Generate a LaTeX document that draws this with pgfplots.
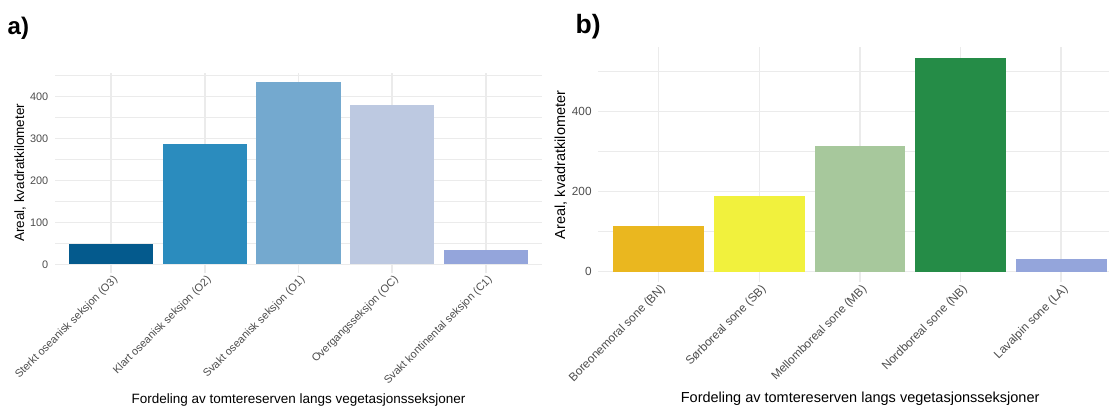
\documentclass[border=0pt]{standalone}
\usepackage{pgfplots}
\pgfplotsset{compat=1.18}
\usepackage{fontspec}
\setmainfont{Liberation Sans}

\definecolor{gridgrey}{HTML}{EBEBEB}
\definecolor{ticktext}{HTML}{4D4D4D}
% vegetasjonsseksjoner
\definecolor{cOthree}{HTML}{045A8D}
\definecolor{cOtwo}{HTML}{2B8CBE}
\definecolor{cOone}{HTML}{74A9CF}
\definecolor{cOC}{HTML}{BDC9E1}
\definecolor{cCone}{HTML}{94A5DB}
% vegetasjonssoner
\definecolor{cBN}{HTML}{EAB71F}
\definecolor{cSB}{HTML}{F1F13D}
\definecolor{cMB}{HTML}{A7C89C}
\definecolor{cNB}{HTML}{258C47}
\definecolor{cLA}{HTML}{94A5DB}

\pgfplotsset{
  panel/.style={
    scale only axis,
    axis line style={draw=none},
    major tick length=0pt,
    minor tick length=0pt,
    xtick={1,2,3,4,5},
    xmin=0.4,
    grid=both,
    major grid style={color=gridgrey, line width=1.5bp},
    minor grid style={color=gridgrey, line width=0.8bp},
    /pgf/number format/assume math mode=true,
    ybar, bar width=0.9, bar shift=0pt,
    every axis plot/.append style={draw=none},
    yticklabel style={anchor=east, inner sep=0pt, xshift=-6.5bp, text=ticktext},
    xticklabel style={rotate=45, anchor=north east, inner sep=0pt, yshift=-1.5bp, text=ticktext},
  },
}

\begin{document}
\begin{tikzpicture}
\path[use as bounding box] (0,0) rectangle (1109bp,407bp);

% ---- a) vegetasjonsseksjoner ----
\node[anchor=base west, inner sep=0pt, font=\bfseries\fontsize{24bp}{24bp}\selectfont] at (7.5bp,372.7bp) {a)};
\begin{axis}[panel,
  at={(55bp,133.6bp)}, anchor=south west,
  width=487bp, height=200.9bp,
  xmax=5.6, ymin=-21.8, ymax=457.8,
  ytick={0,100,200,300,400},
  minor ytick={50,150,250,350,450},
  ticklabel style={font=\fontsize{10.9bp}{13bp}\selectfont},
  xticklabels={Sterkt oseanisk seksjon (O3),Klart oseanisk seksjon (O2),Svakt oseanisk seksjon (O1),Overgangsseksjon (OC),Svakt kontinental seksjon (C1)},
  xlabel={Fordeling av tomtereserven langs vegetasjonsseksjoner},
  ylabel={Areal, kvadratkilometer},
  every axis x label/.style={at={(axis description cs:0.5,0)}, anchor=base, yshift=-129.6bp, font=\fontsize{13.5bp}{16bp}\selectfont},
  every axis y label/.style={at={(axis description cs:-0.0719,0.5)}, rotate=90, anchor=center, font=\fontsize{13.5bp}{16bp}\selectfont},
]
\addplot[fill=cOthree] coordinates {(1,48)};
\addplot[fill=cOtwo]   coordinates {(2,288)};
\addplot[fill=cOone]   coordinates {(3,436)};
\addplot[fill=cOC]     coordinates {(4,380)};
\addplot[fill=cCone]   coordinates {(5,33)};
\end{axis}

% ---- b) vegetasjonssoner ----
\node[anchor=base west, inner sep=0pt, font=\bfseries\fontsize{26.5bp}{26.5bp}\selectfont] at (575.5bp,373.3bp) {b)};
\begin{axis}[panel,
  at={(598.3bp,124.6bp)}, anchor=south west,
  width=510.7bp, height=235bp,
  xmax=5.475, ymin=-26.7, ymax=560.7,
  ytick={0,200,400},
  minor ytick={100,300,500},
  ticklabel style={font=\fontsize{11.8bp}{14bp}\selectfont},
  xticklabels={Boreonemoral sone (BN),Sørboreal sone (SB),Mellomboreal sone (MB),Nordboreal sone (NB),Lavalpin sone (LA)},
  xlabel={Fordeling av tomtereserven langs vegetasjonsseksjoner},
  ylabel={Areal, kvadratkilometer},
  every axis x label/.style={at={(axis description cs:0.5,0)}, anchor=base, xshift=6.5bp, yshift=-120.3bp, font=\fontsize{14.5bp}{17bp}\selectfont},
  every axis y label/.style={at={(axis description cs:-0.0734,0.5)}, rotate=90, anchor=center, font=\fontsize{14.5bp}{17bp}\selectfont},
]
\addplot[fill=cBN] coordinates {(1,113.5)};
\addplot[fill=cSB] coordinates {(2,189)};
\addplot[fill=cMB] coordinates {(3,314)};
\addplot[fill=cNB] coordinates {(4,534)};
\addplot[fill=cLA] coordinates {(5,32)};
\end{axis}
\end{tikzpicture}
\end{document}
